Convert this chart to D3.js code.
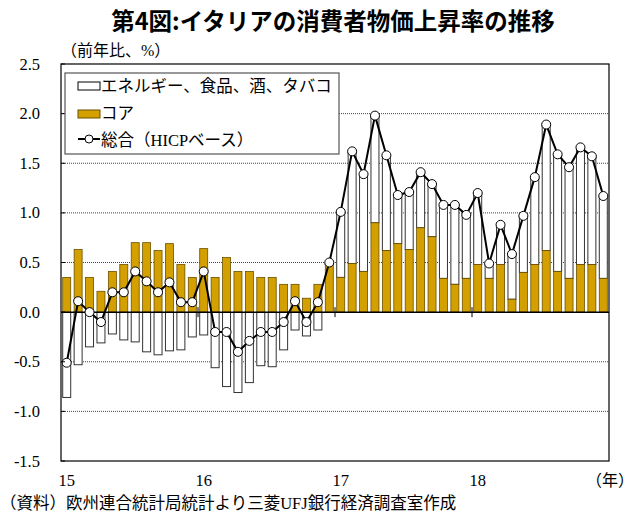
<!DOCTYPE html>
<html>
<head>
<meta charset="utf-8">
<script src="https://cdn.jsdelivr.net/npm/d3@7"></script>
<style>
body { margin: 0; background: #fff; }
svg { display: block; }
text { font-family: "Liberation Serif", "Noto Sans CJK JP", serif; fill: #000; }
.title { font-family: "Noto Sans CJK JP", sans-serif; font-weight: bold; }
</style>
</head>
<body>
<svg width="635" height="515"></svg>
<script>
// Monthly data Jan 2015 - Dec 2018 (y/y %).
var months = d3.range(48);
var yearLabels = ["15", "16", "17", "18"];
var core = [0.35, 0.63, 0.35, 0.21, 0.41, 0.48, 0.70, 0.70, 0.62, 0.69, 0.48, 0.35,
    0.64, 0.35, 0.55, 0.41, 0.41, 0.35, 0.35, 0.28, 0.28, 0.14, 0.28, 0.48,
    0.35, 0.49, 0.41, 0.90, 0.62, 0.69, 0.63, 0.85, 0.76, 0.34, 0.28, 0.34,
    0.48, 0.34, 0.48, 0.13, 0.40, 0.48, 0.62, 0.41, 0.34, 0.48, 0.48, 0.34];
var other = [-0.86, -0.53, -0.35, -0.31, -0.22, -0.28, -0.30, -0.40, -0.43, -0.39, -0.38, -0.25,
    -0.23, -0.56, -0.75, -0.81, -0.71, -0.54, -0.55, -0.38, -0.18, -0.24, -0.18, 0.02,
    0.66, 1.13, 0.98, 1.08, 0.96, 0.49, 0.58, 0.56, 0.53, 0.74, 0.80, 0.64,
    0.72, 0.15, 0.40, 0.45, 0.57, 0.88, 1.27, 1.18, 1.12, 1.18, 1.09, 0.83];
var total = [-0.51, 0.11, 0.0, -0.1, 0.2, 0.2, 0.41, 0.31, 0.2, 0.3, 0.1, 0.1,
    0.41, -0.2, -0.2, -0.4, -0.29, -0.2, -0.2, -0.1, 0.11, -0.1, 0.1, 0.5,
    1.01, 1.62, 1.39, 1.98, 1.58, 1.18, 1.21, 1.41, 1.29, 1.08, 1.08, 0.98,
    1.2, 0.49, 0.88, 0.585, 0.97, 1.36, 1.89, 1.59, 1.46, 1.66, 1.57, 1.17];
var yTicks = [-1.5, -1.0, -0.5, 0.0, 0.5, 1.0, 1.5, 2.0, 2.5];

var svg = d3.select("svg");
// note: "top" is a reserved window property, so plot edges get their own names
var plotL = 61, plotR = 609, plotT = 64, plotB = 461;

var x = d3.scaleBand().domain(months).range([plotL, plotR]).paddingInner(0.3).paddingOuter(0.15);
var y = d3.scaleLinear().domain([-1.5, 2.5]).range([plotB, plotT]);

var coreColor = "#d4a000";

// Title
svg.append("text")
    .attr("class", "title")
    .attr("x", 333)
    .attr("y", 30)
    .attr("text-anchor", "middle")
    .style("font-size", "23.5px")
    .text("第4図:イタリアの消費者物価上昇率の推移");

svg.append("text")
    .attr("x", 61)
    .attr("y", 56)
    .style("font-size", "16px")
    .text("（前年比、%）");

// Grid lines (dotted)
svg.append("g")
    .selectAll("line")
    .data(yTicks.filter(function (d) { return d !== 0 && d !== 2.5 && d !== -1.5; }))
    .enter().append("line")
    .attr("x1", plotL).attr("x2", plotR)
    .attr("y1", function (d) { return y(d); })
    .attr("y2", function (d) { return y(d); })
    .attr("stroke", "#444")
    .attr("stroke-width", 1)
    .attr("stroke-dasharray", "1,1");

// Year tick marks on the zero line
svg.append("g")
    .selectAll("line")
    .data([12, 24, 36])
    .enter().append("line")
    .attr("x1", function (d) { return x(d) - x.step() * 0.15; })
    .attr("x2", function (d) { return x(d) - x.step() * 0.15; })
    .attr("y1", y(0) - 5)
    .attr("y2", y(0) + 5)
    .attr("stroke", "#000");

// Other (energy, food, alcohol, tobacco) bars, stacked on core when positive
svg.append("g")
    .selectAll("rect")
    .data(months)
    .enter().append("rect")
    .attr("x", function (d) { return x(d); })
    .attr("width", x.bandwidth())
    .attr("y", function (d) {
        return other[d] >= 0 ? y(core[d] + other[d]) : y(0);
    })
    .attr("height", function (d) { return Math.abs(y(0) - y(other[d])); })
    .attr("fill", "#fff")
    .attr("stroke", "#333")
    .attr("stroke-width", 1);

// Core bars
svg.append("g")
    .selectAll("rect")
    .data(months)
    .enter().append("rect")
    .attr("x", function (d) { return x(d); })
    .attr("width", x.bandwidth())
    .attr("y", function (d) { return y(core[d]); })
    .attr("height", function (d) { return y(0) - y(core[d]); })
    .attr("fill", coreColor)
    .attr("stroke", "#6b5000")
    .attr("stroke-width", 0.8);

// Zero line
svg.append("line")
    .attr("x1", plotL).attr("x2", plotR)
    .attr("y1", y(0)).attr("y2", y(0))
    .attr("stroke", "#000")
    .attr("stroke-width", 1.5);

// Headline line
var line = d3.line()
    .x(function (d) { return x(d) + x.bandwidth() / 2; })
    .y(function (d) { return y(total[d]); });

svg.append("path")
    .datum(months)
    .attr("d", line)
    .attr("fill", "none")
    .attr("stroke", "#000")
    .attr("stroke-width", 2);

svg.append("g")
    .selectAll("circle")
    .data(months)
    .enter().append("circle")
    .attr("cx", function (d) { return x(d) + x.bandwidth() / 2; })
    .attr("cy", function (d) { return y(total[d]); })
    .attr("r", 4.5)
    .attr("fill", "#fff")
    .attr("stroke", "#000")
    .attr("stroke-width", 1);

// Frame
svg.append("rect")
    .attr("x", plotL).attr("y", plotT)
    .attr("width", plotR - plotL).attr("height", plotB - plotT)
    .attr("fill", "none")
    .attr("stroke", "#000")
    .attr("stroke-width", 1.2);

// Y axis labels + inner ticks
svg.append("g")
    .selectAll("text")
    .data(yTicks)
    .enter().append("text")
    .attr("x", 40)
    .attr("y", function (d) { return y(d) + 5.5; })
    .attr("text-anchor", "end")
    .style("font-size", "16.5px")
    .text(function (d) { return d3.format(".1f")(d).replace("−", "-"); });

svg.append("g")
    .selectAll("line")
    .data(yTicks)
    .enter().append("line")
    .attr("x1", plotL).attr("x2", plotL + 4)
    .attr("y1", function (d) { return y(d); })
    .attr("y2", function (d) { return y(d); })
    .attr("stroke", "#000");

// X labels
svg.append("g")
    .selectAll("text")
    .data(yearLabels)
    .enter().append("text")
    .attr("x", function (d, i) { return x(i * 12) + x.bandwidth() / 2; })
    .attr("y", 486)
    .attr("text-anchor", "middle")
    .style("font-size", "16.5px")
    .text(function (d) { return d; });

svg.append("text")
    .attr("x", 634)
    .attr("y", 486)
    .attr("text-anchor", "end")
    .style("font-size", "16px")
    .text("（年）");

svg.append("text")
    .attr("x", 0)
    .attr("y", 509)
    .style("font-size", "16.5px")
    .text("（資料）欧州連合統計局統計より三菱UFJ銀行経済調査室作成");

// Legend
var legend = svg.append("g");
legend.append("rect")
    .attr("x", 65).attr("y", 73)
    .attr("width", 274).attr("height", 81)
    .attr("fill", "#fff")
    .attr("stroke", "#555")
    .attr("stroke-width", 1.2);

var legendItems = ["エネルギー、食品、酒、タバコ", "コア", "総合（HICPベース）"];
legend.selectAll("text")
    .data(legendItems)
    .enter().append("text")
    .attr("x", 101)
    .attr("y", function (d, i) { return 92 + i * 27; })
    .style("font-size", "16.5px")
    .text(function (d) { return d; });

legend.append("rect")
    .attr("x", 78).attr("y", 82).attr("width", 22).attr("height", 8)
    .attr("fill", "#fff").attr("stroke", "#000");
legend.append("rect")
    .attr("x", 78).attr("y", 110).attr("width", 22).attr("height", 8)
    .attr("fill", coreColor).attr("stroke", "#6b5000");
legend.append("line")
    .attr("x1", 78).attr("x2", 100).attr("y1", 139).attr("y2", 139)
    .attr("stroke", "#000").attr("stroke-width", 2);
legend.append("circle")
    .attr("cx", 89).attr("cy", 139).attr("r", 4)
    .attr("fill", "#fff").attr("stroke", "#000");
</script>
</body>
</html>
